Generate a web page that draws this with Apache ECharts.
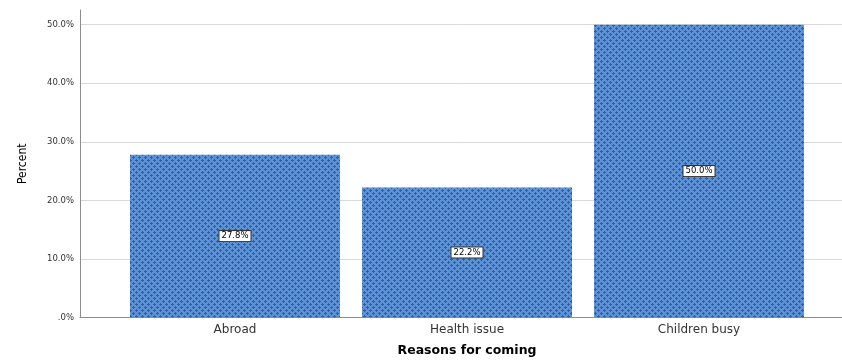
<!DOCTYPE html>
<html>
<head>
<meta charset="utf-8">
<script src="https://cdn.jsdelivr.net/npm/echarts@6/dist/echarts.min.js"></script>
<style>html,body{margin:0;padding:0;background:#fff}#c{width:842px;height:360px}</style>
</head>
<body>
<div id="c"></div>
<script>
var categories = ['Abroad', 'Health issue', 'Children busy'];
var percents = [27.8, 22.2, 50.0];
var positions = [1, 2, 3];
var yTicks = [0, 10, 20, 30, 40, 50];

function makePattern() {
  var cv = document.createElement('canvas');
  cv.width = 6; cv.height = 6;
  var ctx = cv.getContext('2d');
  ctx.fillStyle = '#5d92d6';
  ctx.fillRect(0, 0, 6, 6);
  ctx.fillStyle = '#325f9c';
  function plus(x, y) {
    [[0,0],[1,0],[-1,0],[0,1],[0,-1]].forEach(function (d) {
      ctx.fillRect((x + d[0] + 6) % 6, (y + d[1] + 6) % 6, 1, 1);
    });
  }
  plus(1, 1);
  plus(4, 4);
  return cv;
}

var chart = echarts.init(document.getElementById('c'), null, {renderer: 'canvas'});
var data = positions.map(function (p, i) { return [p, percents[i]]; });

chart.setOption({
  animation: false,
  grid: {left: 80, top: 10, right: -12, bottom: 42.5, containLabel: false, outerBoundsMode: 'none'},
  xAxis: {
    type: 'value',
    min: 0.332,
    max: 3.668,
    name: 'Reasons for coming',
    nameLocation: 'middle',
    nameGap: 27,
    nameTextStyle: {fontFamily: '"DejaVu Sans"', fontWeight: 'bold', fontSize: 12.5, color: '#000'},
    axisLine: {show: true, lineStyle: {color: '#8c8c8c', width: 1}},
    axisTick: {show: false},
    splitLine: {show: false},
    axisLabel: {
      customValues: positions,
      formatter: function (v) { return categories[Math.round(v) - 1] || ''; },
      fontFamily: '"DejaVu Sans"', fontSize: 12, color: '#333', margin: 6
    }
  },
  yAxis: {
    type: 'value',
    min: 0,
    max: 52.5,
    interval: 10,
    name: 'Percent',
    nameLocation: 'middle',
    nameRotate: 90,
    nameGap: 51,
    nameTextStyle: {fontFamily: '"DejaVu Sans Condensed", "Liberation Sans", sans-serif', fontSize: 12, color: '#000'},
    axisLine: {show: true, onZero: false, lineStyle: {color: '#8c8c8c', width: 1}},
    axisTick: {show: false},
    axisLabel: {
      showMaxLabel: false,
      formatter: function (v) { return v === 0 ? '.0%' : v.toFixed(1) + '%'; },
      fontFamily: '"DejaVu Sans"', fontSize: 8.5, color: '#333', margin: 6
    },
    splitLine: {show: true, showMinLine: false, showMaxLine: false, lineStyle: {color: '#d9d9d9', width: 1}}
  },
  series: [{
    type: 'bar',
    data: data,
    barWidth: 210,
    itemStyle: {color: {image: makePattern(), repeat: 'repeat'}},
    label: {
      show: true,
      position: 'inside',
      formatter: function (p) { return p.value[1].toFixed(1) + '%'; },
      fontFamily: '"DejaVu Sans"', fontSize: 8.5, color: '#000',
      backgroundColor: '#fff', borderColor: '#333', borderWidth: 1, padding: [1, 2, 0, 2]
    }
  }]
});
</script>
</body>
</html>
